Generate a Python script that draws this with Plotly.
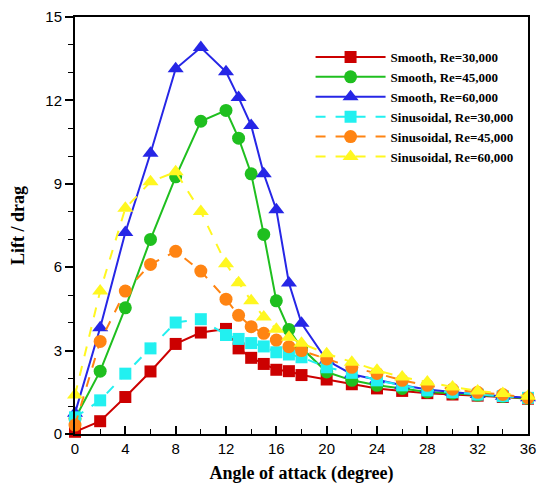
import plotly.graph_objects as go

angles = [0, 2, 4, 6, 8, 10, 12, 13, 14, 15, 16, 17, 18, 20, 22, 24, 26, 28, 30, 32, 34, 36]

smooth_30 = [0.08, 0.46, 1.33, 2.25, 3.24, 3.65, 3.78, 3.08, 2.74, 2.52, 2.31, 2.26, 2.12, 1.96, 1.79, 1.64, 1.55, 1.47, 1.42, 1.38, 1.33, 1.27]
smooth_45 = [0.55, 2.26, 4.54, 7.0, 9.25, 11.25, 11.64, 10.64, 9.36, 7.18, 4.79, 3.76, 3.1, 2.23, 1.93, 1.75, 1.64, 1.51, 1.47, 1.4, 1.35, 1.28]
smooth_60 = [0.75, 3.82, 7.25, 10.1, 13.14, 13.9, 13.03, 12.1, 11.1, 9.36, 8.07, 5.43, 3.98, 2.65, 2.15, 1.95, 1.75, 1.6, 1.5, 1.42, 1.36, 1.3]
sinus_30 = [0.6, 1.21, 2.17, 3.08, 4.01, 4.13, 3.56, 3.42, 3.27, 3.15, 2.94, 2.86, 2.76, 2.4, 2.2, 1.93, 1.75, 1.57, 1.5, 1.42, 1.36, 1.3]
sinus_45 = [0.32, 3.33, 5.14, 6.1, 6.57, 5.86, 4.85, 4.27, 3.86, 3.62, 3.38, 3.14, 3.0, 2.7, 2.4, 2.18, 1.93, 1.75, 1.61, 1.5, 1.42, 1.3]
sinus_60 = [1.4, 5.14, 8.12, 9.07, 9.43, 8.0, 6.12, 5.44, 4.79, 4.21, 3.77, 3.48, 3.26, 2.89, 2.58, 2.29, 2.05, 1.87, 1.69, 1.55, 1.46, 1.36]

series_names = ["Smooth, Re=30,000", "Smooth, Re=45,000", "Smooth, Re=60,000",
                "Sinusoidal, Re=30,000", "Sinusoidal, Re=45,000", "Sinusoidal, Re=60,000"]
series_values = [smooth_30, smooth_45, smooth_60, sinus_30, sinus_45, sinus_60]
colors = ["#CC0000", "#1FBF1F", "#2626E6", "#22F0F0", "#FF8412", "#FFF720"]
symbols = ["square", "circle", "triangle-up", "square", "circle", "triangle-up"]
sizes = [12, 13, 14, 12, 13, 14]
dashes = ["solid", "solid", "solid", "10px,10px", "10px,10px", "10px,10px"]

x_ticks = [0, 4, 8, 12, 16, 20, 24, 28, 32, 36]
y_ticks = [0, 3, 6, 9, 12, 15]

fig = go.Figure()
for name, vals, c, s, sz, d in zip(series_names, series_values, colors, symbols, sizes, dashes):
    fig.add_trace(go.Scatter(
        x=angles, y=vals, name=name, mode="lines+markers",
        line=dict(color=c, width=2, dash=d),
        marker=dict(color=c, symbol=s, size=sz, line=dict(width=0)),
        cliponaxis=False,
    ))

fig.update_layout(
    width=544, height=490,
    margin=dict(l=75, r=8, t=14, b=56),
    paper_bgcolor="white", plot_bgcolor="white",
    showlegend=True,
    legend=dict(
        x=0.52, y=0.94, xanchor="left", yanchor="top",
        bgcolor="rgba(255,255,255,0)", borderwidth=0,
        font=dict(family="Liberation Serif", size=13, color="black", weight="bold"),
        itemwidth=70, tracegroupgap=0,
    ),
    xaxis=dict(
        range=[0, 36], tickvals=x_ticks, ticktext=[str(v) for v in x_ticks],
        ticks="inside", ticklen=8, tickwidth=2, tickcolor="black",
        minor=dict(dtick=2, ticks="inside", ticklen=5, tickwidth=1, tickcolor="black"),
        showline=True, linecolor="black", linewidth=2, mirror=True,
        showgrid=False, zeroline=False,
        tickfont=dict(family="Liberation Sans", size=15, color="black"),
        title=dict(text="Angle of attack (degree)", standoff=10,
                   font=dict(family="Liberation Serif", size=18, color="black", weight="bold")),
    ),
    yaxis=dict(
        range=[0, 15], tickvals=y_ticks, ticktext=[str(v) for v in y_ticks],
        ticks="outside", ticklen=8, tickwidth=2, tickcolor="black",
        minor=dict(dtick=1, ticks="outside", ticklen=5, tickwidth=1, tickcolor="black"),
        showline=True, linecolor="black", linewidth=2, mirror=True,
        showgrid=False, zeroline=False,
        tickfont=dict(family="Liberation Sans", size=15, color="black"),
        title=dict(text="Lift / drag", standoff=16,
                   font=dict(family="Liberation Serif", size=18, color="black", weight="bold")),
    ),
)

fig.write_html("out.html")
